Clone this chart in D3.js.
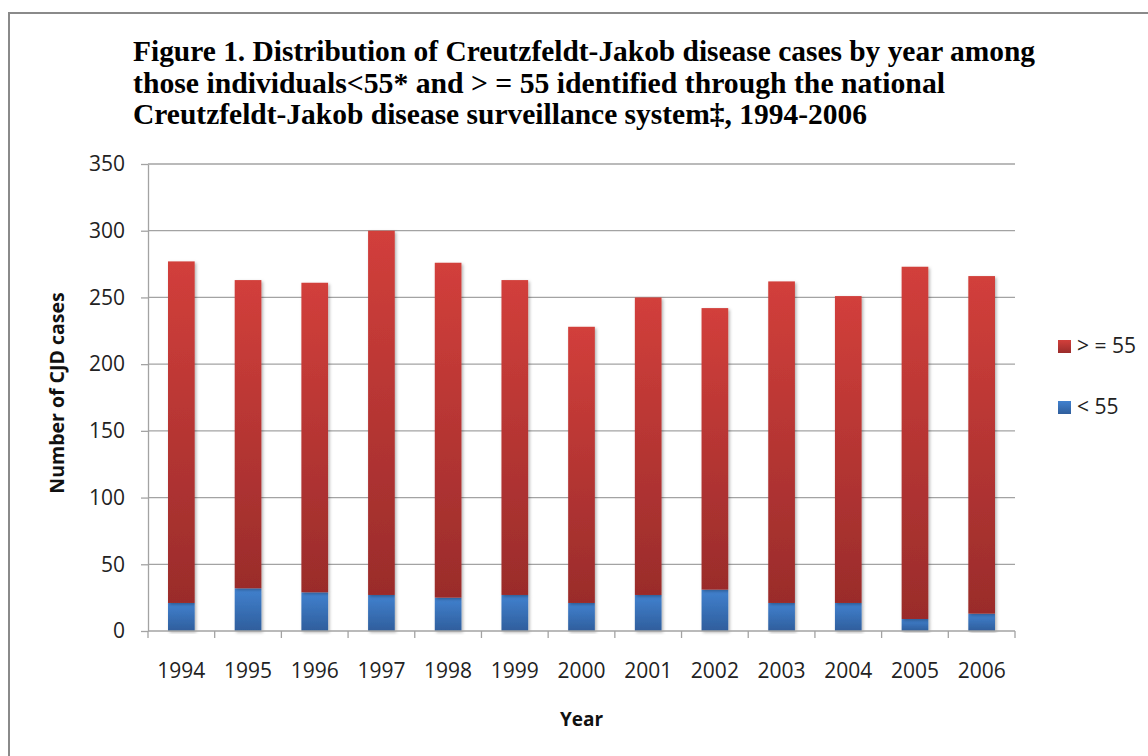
<!DOCTYPE html>
<html>
<head>
<meta charset="utf-8">
<script src="https://cdn.jsdelivr.net/npm/d3@7"></script>
<style>
  html, body { margin: 0; padding: 0; background: #fff; }
  svg { display: block; }
</style>
</head>
<body>
<svg id="chart" width="1148" height="756"></svg>
<script>
// Years on the category axis
const years = ["1994","1995","1996","1997","1998","1999","2000","2001","2002","2003","2004","2005","2006"];
// CJD cases among individuals younger than 55
const under55 = [21, 32, 29, 27, 25, 27, 21, 27, 31, 21, 21, 9, 13];
// CJD cases among individuals 55 and older
const over55 = [256, 231, 232, 273, 251, 236, 207, 223, 211, 241, 230, 264, 253];
// Value axis ticks
const yTicks = [0, 50, 100, 150, 200, 250, 300, 350];
const seriesNames = ["< 55", "> = 55"];
const titleLines = [
  "Figure 1. Distribution of Creutzfeldt-Jakob disease cases by year among",
  "those individuals<55* and > = 55 identified through the national",
  "Creutzfeldt-Jakob disease surveillance system\u2021, 1994-2006"
];

const svg = d3.select("#chart");
const plot = { left: 148, right: 1015, top: 164, bottom: 631 };
const labelFont = "'Open Sans', 'DejaVu Sans', sans-serif";

// Outer frame of the figure
svg.append("rect")
  .attr("x", 9).attr("y", 13)
  .attr("width", 1160).attr("height", 760)
  .attr("fill", "none")
  .attr("stroke", "#8a8a8a")
  .attr("stroke-width", 2);

// Title
const titleRight = [1035, 945, 867];
const titleBase = [61, 93, 124];
svg.append("g").selectAll("text")
  .data(titleLines)
  .join("text")
  .attr("x", 133)
  .attr("y", (d, i) => titleBase[i])
  .attr("textLength", (d, i) => titleRight[i] - 133)
  .attr("lengthAdjust", "spacingAndGlyphs")
  .attr("font-family", "'Liberation Serif', 'Times New Roman', serif")
  .attr("font-weight", "bold")
  .attr("font-size", 29)
  .attr("fill", "#000")
  .text(d => d);

// Scales
const x = d3.scaleBand()
  .domain(years)
  .range([plot.left, plot.right])
  .paddingInner(0.6)
  .paddingOuter(0.3);

const y = d3.scaleLinear()
  .domain([0, 350])
  .range([plot.bottom, plot.top]);

// Gradients and shadow
const defs = svg.append("defs");
function vGrad(id, top, bottom) {
  const g = defs.append("linearGradient")
    .attr("id", id)
    .attr("x1", 0).attr("y1", 0).attr("x2", 0).attr("y2", 1);
  g.append("stop").attr("offset", "0%").attr("stop-color", top);
  g.append("stop").attr("offset", "100%").attr("stop-color", bottom);
}
vGrad("gradRed", "#d23f3b", "#9a2c2b");
vGrad("gradBlue", "#4181cf", "#2f5e9c");
const shadow = defs.append("filter").attr("id", "barShadow")
  .attr("x", "-30%").attr("y", "-10%").attr("width", "160%").attr("height", "120%");
shadow.append("feDropShadow")
  .attr("dx", 1.5).attr("dy", 1.5)
  .attr("stdDeviation", 1.8)
  .attr("flood-color", "#000")
  .attr("flood-opacity", 0.3);

// Horizontal gridlines
svg.append("g").selectAll("line")
  .data(yTicks.filter(t => t > 0))
  .join("line")
  .attr("x1", plot.left).attr("x2", plot.right)
  .attr("y1", d => y(d)).attr("y2", d => y(d))
  .attr("stroke", "#a3a3a3")
  .attr("stroke-width", 1.3);

// Y axis
const yAxis = svg.append("g")
  .attr("transform", `translate(${plot.left},0)`)
  .call(d3.axisLeft(y).tickValues(yTicks).tickSize(7).tickPadding(16).tickSizeOuter(0));
yAxis.select(".domain").attr("stroke", "#a3a3a3").attr("stroke-width", 1.3);
yAxis.selectAll(".tick line").attr("stroke", "#a3a3a3").attr("stroke-width", 1.3);
yAxis.selectAll(".tick text")
  .attr("font-family", labelFont)
  .attr("font-size", 21)
  .attr("fill", "#222");

// Stacked bars
const stackData = years.map((yr, i) => ({ year: yr, under: under55[i], over: over55[i] }));
const stack = d3.stack().keys(["under", "over"])(stackData);
const fills = ["url(#gradBlue)", "url(#gradRed)"];

svg.append("g")
  .selectAll("g")
  .data(stack)
  .join("g")
  .attr("fill", (d, i) => fills[i])
  .selectAll("rect")
  .data(d => d)
  .join("rect")
  .attr("x", d => x(d.data.year))
  .attr("width", x.bandwidth())
  .attr("y", d => y(d[1]))
  .attr("height", d => y(d[0]) - y(d[1]))
  .attr("filter", "url(#barShadow)");

// X axis with ticks at category boundaries
const xAxisG = svg.append("g");
xAxisG.append("line")
  .attr("x1", plot.left).attr("x2", plot.right)
  .attr("y1", plot.bottom).attr("y2", plot.bottom)
  .attr("stroke", "#a3a3a3").attr("stroke-width", 1.3);
const boundaries = d3.range(years.length + 1).map(i => plot.left + i * (plot.right - plot.left) / years.length);
xAxisG.selectAll("line.tk")
  .data(boundaries)
  .join("line")
  .attr("class", "tk")
  .attr("x1", d => d).attr("x2", d => d)
  .attr("y1", plot.bottom).attr("y2", plot.bottom + 7)
  .attr("stroke", "#a3a3a3").attr("stroke-width", 1.3);
xAxisG.selectAll("text")
  .data(years)
  .join("text")
  .attr("x", d => x(d) + x.bandwidth() / 2)
  .attr("y", 678)
  .attr("text-anchor", "middle")
  .attr("font-family", labelFont)
  .attr("font-size", 21)
  .attr("fill", "#222")
  .text(d => d);

// Axis titles
svg.append("text")
  .attr("x", (plot.left + plot.right) / 2)
  .attr("y", 726)
  .attr("text-anchor", "middle")
  .attr("font-family", labelFont)
  .attr("font-weight", "bold")
  .attr("font-size", 19)
  .attr("fill", "#111")
  .text("Year");

svg.append("text")
  .attr("transform", "translate(64,393) rotate(-90)")
  .attr("text-anchor", "middle")
  .attr("font-family", labelFont)
  .attr("font-weight", "bold")
  .attr("font-size", 19.5)
  .attr("fill", "#111")
  .text("Number of CJD cases");

// Legend (older group listed first)
const legendItems = [
  { name: seriesNames[1], fill: "url(#gradRed)", y: 340 },
  { name: seriesNames[0], fill: "url(#gradBlue)", y: 401 }
];
const lg = svg.append("g").selectAll("g")
  .data(legendItems)
  .join("g")
  .attr("transform", d => `translate(1058,${d.y})`);
lg.append("rect")
  .attr("width", 13).attr("height", 13)
  .attr("fill", d => d.fill);
lg.append("text")
  .attr("x", 19).attr("y", 13)
  .attr("font-family", labelFont)
  .attr("font-size", 21)
  .attr("fill", "#222")
  .text(d => d.name);
</script>
</body>
</html>
